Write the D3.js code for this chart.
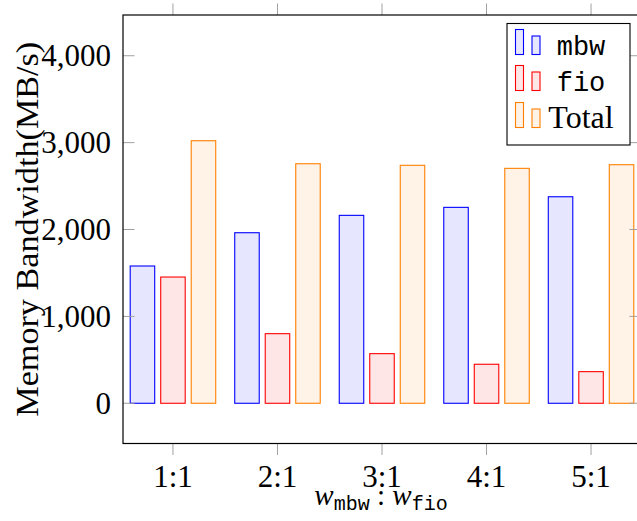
<!DOCTYPE html>
<html>
<head>
<meta charset="utf-8">
<script src="https://cdn.jsdelivr.net/npm/d3@7"></script>
<style>
  body { margin: 0; background: #fff; }
  svg { display: block; }
</style>
</head>
<body>
<svg id="chart" width="637" height="521"></svg>
<script>
// data
const categories = ['1:1', '2:1', '3:1', '4:1', '5:1'];
const series = ['mbw', 'fio', 'Total'];
const mbwValues = [1580, 1963, 2163, 2255, 2377];
const fioValues = [1453, 801, 571, 449, 364];
const totalValues = [3022, 2757, 2739, 2704, 2746];
const yTicks = [0, 1000, 2000, 3000, 4000];

const stroke = { mbw: '#0000ff', fio: '#ff0000', Total: '#ff8000' };
const fill = { mbw: '#e6e6ff', fio: '#ffe6e6', Total: '#fff2e6' };
const valuesBySeries = { mbw: mbwValues, fio: fioValues, Total: totalValues };

const serif = "'Liberation Serif', 'DejaVu Serif', serif";
const mono = "'Liberation Mono', 'DejaVu Sans Mono', monospace";

const svg = d3.select('#chart');

// plot box (right edge sits just past the window)
const box = { left: 123, right: 641, top: 15, bottom: 443.5 };

const x0 = d3.scalePoint().domain(categories).range([box.left, box.right]).padding(0.478);
const x1 = d3.scaleBand().domain(series).range([-43.25, 43.25]).paddingInner(0.164).paddingOuter(0);
const y = d3.scaleLinear().domain([-463, 4469]).range([box.bottom, box.top]);

const rows = categories.map((c, i) => ({
  category: c,
  values: series.map(s => ({ group: s, amount: valuesBySeries[s][i] }))
}));

// bars
svg.selectAll('g.category-group')
  .data(rows)
  .enter()
  .append('g')
  .attr('class', 'category-group')
  .attr('transform', d => `translate(${x0(d.category)},0)`)
  .selectAll('rect')
  .data(d => d.values)
  .enter()
  .append('rect')
  .attr('x', d => x1(d.group) + 0.5)
  .attr('y', d => y(d.amount))
  .attr('width', x1.bandwidth() - 1)
  .attr('height', d => y(0) - y(d.amount))
  .attr('fill', d => fill[d.group])
  .attr('stroke', d => stroke[d.group])
  .attr('stroke-width', 1.1);

// ticks (gray), y inward, x outward top and bottom
const tickColor = '#a0a0a0';
const tickLen = 11.5;
yTicks.forEach(t => {
  svg.append('line').attr('x1', box.left).attr('x2', box.left + tickLen)
    .attr('y1', y(t)).attr('y2', y(t)).attr('stroke', tickColor).attr('stroke-width', 1);
  svg.append('line').attr('x1', box.right - tickLen).attr('x2', box.right)
    .attr('y1', y(t)).attr('y2', y(t)).attr('stroke', tickColor).attr('stroke-width', 1);
});
categories.forEach(c => {
  svg.append('line').attr('x1', x0(c)).attr('x2', x0(c))
    .attr('y1', box.bottom).attr('y2', box.bottom + tickLen).attr('stroke', tickColor).attr('stroke-width', 1);
  svg.append('line').attr('x1', x0(c)).attr('x2', x0(c))
    .attr('y1', box.top - tickLen).attr('y2', box.top).attr('stroke', tickColor).attr('stroke-width', 1);
});

// axis box
svg.append('rect')
  .attr('x', box.left).attr('y', box.top)
  .attr('width', box.right - box.left).attr('height', box.bottom - box.top)
  .attr('fill', 'none').attr('stroke', '#000').attr('stroke-width', 1.2);

// y tick labels
const fmt = d3.format(',');
svg.selectAll('text.ytick')
  .data(yTicks)
  .enter()
  .append('text')
  .attr('class', 'ytick')
  .attr('x', 111)
  .attr('y', d => y(d) + 10.5)
  .attr('text-anchor', 'end')
  .style('font-family', serif)
  .style('font-size', '31px')
  .text(d => fmt(d));

// x tick labels
svg.selectAll('text.xtick')
  .data(categories)
  .enter()
  .append('text')
  .attr('class', 'xtick')
  .attr('x', d => x0(d))
  .attr('y', 486.5)
  .attr('text-anchor', 'middle')
  .style('font-family', serif)
  .style('font-size', '31px')
  .text(d => d);

// y axis title
svg.append('text')
  .attr('transform', `translate(38,${(box.top + box.bottom) / 2}) rotate(-90)`)
  .attr('text-anchor', 'middle')
  .attr('textLength', 375)
  .attr('lengthAdjust', 'spacingAndGlyphs')
  .style('font-family', serif)
  .style('font-size', '31px')
  .text('Memory Bandwidth(MB/s)');

// x axis title: w_mbw : w_fio
const xt = svg.append('text')
  .attr('x', 381)
  .attr('y', 505)
  .attr('text-anchor', 'middle')
  .style('font-family', serif)
  .style('font-size', '29px');
xt.append('tspan').style('font-style', 'italic').text('w');
xt.append('tspan').attr('dy', 5).style('font-family', mono).style('font-size', '20px').text('mbw');
xt.append('tspan').attr('dy', -5).text(' : ');
xt.append('tspan').style('font-style', 'italic').text('w');
xt.append('tspan').attr('dy', 5).style('font-family', mono).style('font-size', '20px').text('fio');

// legend
const legend = svg.append('g');
legend.append('rect')
  .attr('x', 507).attr('y', 23.5).attr('width', 123).attr('height', 121.5)
  .attr('fill', '#fff').attr('stroke', '#000').attr('stroke-width', 1.1);
const baselines = [54.5, 90.5, 127.5];
series.forEach((s, i) => {
  const b = baselines[i];
  legend.append('rect')
    .attr('x', 515.5).attr('y', b - 25).attr('width', 8).attr('height', 25)
    .attr('fill', fill[s]).attr('stroke', stroke[s]).attr('stroke-width', 1.1);
  legend.append('rect')
    .attr('x', 532).attr('y', b - 18.5).attr('width', 8).attr('height', 18.5)
    .attr('fill', fill[s]).attr('stroke', stroke[s]).attr('stroke-width', 1.1);
  legend.append('text')
    .attr('x', 581)
    .attr('y', b)
    .attr('text-anchor', 'middle')
    .style('font-family', s === 'Total' ? serif : mono)
    .style('font-size', s === 'Total' ? '32px' : '27px')
    .text(s);
});
</script>
</body>
</html>
